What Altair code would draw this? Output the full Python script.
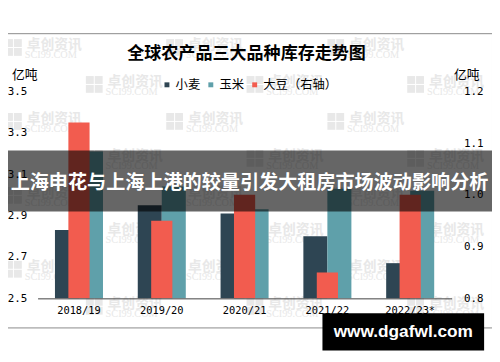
import altair as alt
import pandas as pd

# ---------------- data ----------------
categories = ["2018/19", "2019/20", "2020/21", "2021/22", "2022/23*"]
wheat = [2.83, 2.95, 2.91, 2.80, 2.67]          # 小麦, left axis
corn = [3.21, 3.04, 2.93, 3.03, 3.02]           # 玉米, left axis
soy = [1.14, 0.95, 1.00, 0.85, 1.00]            # 大豆, right axis
series_names = ["小麦", "玉米", "大豆（右轴）"]
colors = ["#2E4553", "#5FA0AA", "#F25C4F"]
left_ticks = [2.5, 2.7, 2.9, 3.1, 3.3, 3.5]
right_ticks = [0.8, 0.9, 1.0, 1.1, 1.2]
left_domain = [2.5, 3.5]
right_domain = [0.8, 1.2]
unit = "亿吨"
title_text = "全球农产品三大品种库存走势图"
banner_text = "上海申花与上海上港的较量引发大租房市场波动影响分析"
site_text = "www.dgafwl.com"
wm_text1 = "卓创资讯"
wm_text2 = "SCI99.COM"

# ---------------- layout ----------------
W, H = 420, 210
OX, OY = 38, 90          # page position of the plot origin
PADL, PADT = OX - 8, OY - 8
CJK = "Noto Sans CJK SC"
NUM = "DejaVu Sans Mono"


def px(x):
    return x - OX


def py(y):
    return y - OY


grain = pd.DataFrame({
    "year": categories * 2,
    "series": [series_names[0]] * len(categories) + [series_names[1]] * len(categories),
    "value": wheat + corn,
})
soy_df = pd.DataFrame({"year": categories, "series": series_names[2], "value": soy})
one = pd.DataFrame({"k": [0]})

# watermark grid (decoration)
rows = []
for i in range(8):
    top = 37 + 37.5 * i
    starts = [5, 168.5, 332] if i % 2 == 0 else [87, 250, 413]
    for s in starts:
        rows.append({"lx": px(s), "ly": py(top)})
wm = pd.DataFrame(rows)
logo_rows = []
for r in rows:
    for dx in (0, 9):
        for dy in (0, 9):
            logo_rows.append({"x1": r["lx"] + dx, "x2": r["lx"] + dx + 8,
                              "y1": r["ly"] + dy, "y2": r["ly"] + dy + 8})
logo = pd.DataFrame(logo_rows)
wm["tx1"] = wm["lx"] + 22
wm["ty1"] = wm["ly"] + 6.5
wm["tx2"] = wm["lx"] + 20
wm["ty2"] = wm["ly"] + 16

WM_COLOR = "#e8e8e8"
wm_logo = alt.Chart(logo).mark_rect(color=WM_COLOR).encode(
    x=alt.X("x1:Q", scale=None), x2="x2:Q",
    y=alt.Y("y1:Q", scale=None), y2="y2:Q")
wm_t1 = alt.Chart(wm).mark_text(text=wm_text1, font=CJK, fontSize=14, fontWeight="bold",
                                color=WM_COLOR, align="left", baseline="middle").encode(
    x=alt.X("tx1:Q", scale=None), y=alt.Y("ty1:Q", scale=None))
wm_t2 = alt.Chart(wm).mark_text(text=wm_text2, font="Liberation Serif", fontSize=10.4,
                                color=WM_COLOR, align="left", baseline="middle").encode(
    x=alt.X("tx2:Q", scale=None), y=alt.Y("ty2:Q", scale=None))

frame = alt.Chart(one).mark_rect(fillOpacity=0, stroke="#8a8a8a", strokeWidth=1).encode(
    x=alt.value(px(0.5)), x2=alt.value(px(499.5)),
    y=alt.value(py(31.5)), y2=alt.value(py(330)))

title = alt.Chart(one).mark_text(text=title_text, font=CJK, fontSize=17.3, fontWeight="bold",
                                 color="#000000", align="center", baseline="middle").encode(
    x=alt.value(px(250)), y=alt.value(py(52)))

color_scale = alt.Scale(domain=series_names, range=colors)
legend = alt.Legend(title=None, orient="none", legendX=px(163), legendY=py(77),
                    direction="horizontal", symbolType="square", symbolSize=25,
                    symbolStrokeWidth=0, labelFont=CJK, labelFontSize=12.5,
                    labelColor="#000000", labelOffset=2.5, columnPadding=3.5, padding=0)
x_scale = alt.Scale(domain=categories, paddingInner=0.42, paddingOuter=0.21)
x_axis = alt.Axis(title=None, labelAngle=0, ticks=False, labelFont=NUM, labelFontSize=10.5,
                  labelColor="#000000", labelPadding=7, domainColor="#404040",
                  domainWidth=1, grid=False, zindex=1)

grain_bars = alt.Chart(grain).mark_bar().encode(
    x=alt.X("year:N", scale=x_scale, axis=x_axis, sort=categories),
    xOffset=alt.XOffset("series:N", sort=series_names[:2],
                        scale=alt.Scale(paddingInner=0, paddingOuter=0)),
    y=alt.Y("value:Q", scale=alt.Scale(domain=left_domain, nice=False, zero=False),
            axis=alt.Axis(orient="left", values=left_ticks, format=".1f", grid=False,
                          domain=False, ticks=False, labelFont=NUM, labelFontSize=11,
                          labelColor="#000000", labelPadding=11, zindex=1,
                          title=unit, titleAngle=0, titleFont=CJK, titleFontSize=13,
                          titleFontWeight="normal", titleColor="#000000",
                          titleAlign="center", titleBaseline="middle",
                          titleX=-13.5, titleY=-17)),
    y2=alt.datum(left_domain[0]),
    color=alt.Color("series:N", scale=color_scale, legend=legend),
)

soy_bars = alt.Chart(soy_df).mark_bar(width=21.5).encode(
    x=alt.X("year:N", scale=x_scale, axis=x_axis, sort=categories),
    y=alt.Y("value:Q", scale=alt.Scale(domain=right_domain, nice=False, zero=False),
            axis=alt.Axis(orient="right", values=right_ticks, format=".1f", grid=False,
                          domain=False, ticks=False, labelFont=NUM, labelFontSize=11,
                          labelColor="#000000", labelPadding=12, zindex=1,
                          title=unit, titleAngle=0, titleFont=CJK, titleFontSize=13,
                          titleFontWeight="normal", titleColor="#000000",
                          titleAlign="center", titleBaseline="middle",
                          titleX=15, titleY=-17)),
    y2=alt.datum(right_domain[0]),
    color=alt.Color("series:N", scale=color_scale, legend=legend),
)

banner = alt.Chart(one).mark_rect(color="#000000", opacity=0.6).encode(
    x=alt.value(px(0)), x2=alt.value(px(500)),
    y=alt.value(py(150)), y2=alt.value(py(212)))
banner_txt = alt.Chart(one).mark_text(text=banner_text, font=CJK, fontSize=19.4,
                                      fontWeight="bold", color="#ffffff",
                                      align="center", baseline="middle").encode(
    x=alt.value(px(253)), y=alt.value(py(183)))

box = alt.Chart(one).mark_rect(color="#000000").encode(
    x=alt.value(px(327)), x2=alt.value(px(491)),
    y=alt.value(py(315)), y2=alt.value(py(353)))
box_txt = alt.Chart(one).mark_text(text=site_text, font="Liberation Sans", fontSize=17.5,
                                   fontWeight="bold", color="#ffffff",
                                   align="center", baseline="middle").encode(
    x=alt.value(px(409)), y=alt.value(py(334)))

chart = alt.layer(
    wm_logo, wm_t1, wm_t2, frame, title, grain_bars, soy_bars,
    banner, banner_txt, box, box_txt,
).resolve_scale(y="independent").properties(
    width=W, height=H,
    padding={"left": PADL, "top": PADT, "right": 491 - PADL - W, "bottom": 353 - PADT - H},
    autosize=alt.AutoSizeParams(type="none"),
    background="#ffffff",
).configure_view(stroke=None)

chart.save("out.html", embed_options={"renderer": "svg", "actions": False})
